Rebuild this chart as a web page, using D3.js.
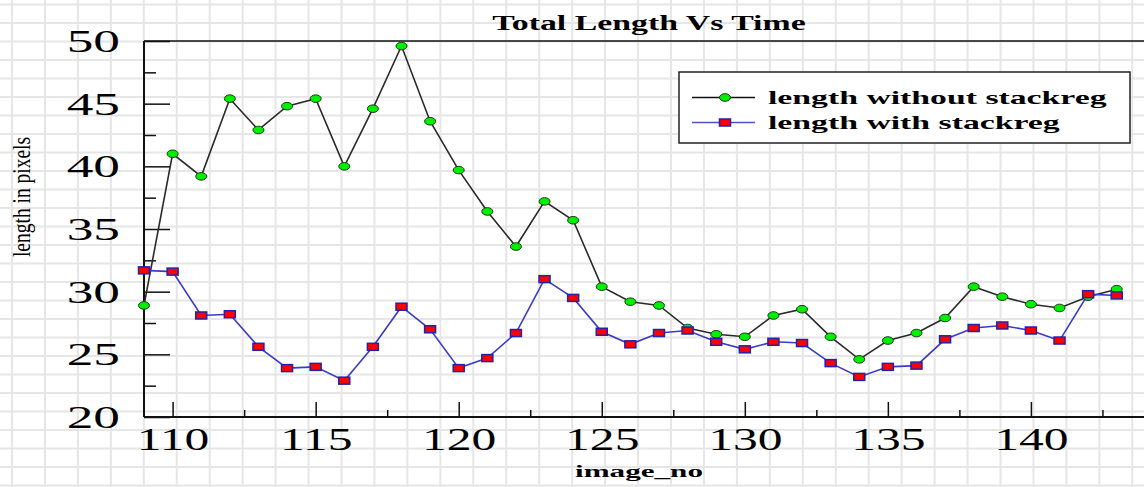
<!DOCTYPE html>
<html>
<head>
<meta charset="utf-8">
<script src="https://cdn.jsdelivr.net/npm/d3@7"></script>
<style>
  html, body { margin: 0; padding: 0; background: #fff; }
  svg { display: block; font-family: "Liberation Serif", "Times New Roman", serif; }
</style>
</head>
<body>
<svg id="chart" width="1144" height="487"></svg>
<script>
// Image numbers along the x axis
const imageNo = [109, 110, 111, 112, 113, 114, 115, 116, 117, 118, 119, 120, 121, 122, 123, 124, 125,
  126, 127, 128, 129, 130, 131, 132, 133, 134, 135, 136, 137, 138, 139, 140, 141, 142, 143];

// Total length (pixels) per image
const lengthWithoutStackreg = [28.9, 41.0, 39.2, 45.4, 42.9, 44.8, 45.4, 40.0, 44.6, 49.6, 43.6, 39.7,
  36.4, 33.6, 37.2, 35.7, 30.4, 29.2, 28.9, 27.1, 26.6, 26.4, 28.1, 28.6, 26.4, 24.6, 26.1, 26.7, 27.9,
  30.4, 29.6, 29.0, 28.7, 29.6, 30.2];
const lengthWithStackreg = [31.7, 31.6, 28.1, 28.2, 25.6, 23.9, 24.0, 22.9, 25.6, 28.8, 27.0, 23.9,
  24.7, 26.7, 31.0, 29.5, 26.8, 25.8, 26.7, 26.9, 26.0, 25.4, 26.0, 25.9, 24.3, 23.2, 24.0, 24.1, 26.2,
  27.1, 27.3, 26.9, 26.1, 29.8, 29.7];

const seriesNames = ["length without stackreg", "length with stackreg"];

// Axis ticks
const xMajorTicks = [110, 115, 120, 125, 130, 135, 140];
const xMinorTicks = [112.5, 117.5, 122.5, 127.5, 132.5, 137.5, 142.5];
const yMajorTicks = [20, 25, 30, 35, 40, 45, 50];
const yMinorTicks = [22.5, 27.5, 32.5, 37.5, 42.5, 47.5];

const W = 1144, H = 487;
const svg = d3.select("#chart");

// Graph-paper background
const bg = svg.append("g").attr("stroke", "#e6e6e6").attr("stroke-width", 2);
for (let gx = 12; gx < W; gx += 32.95) {
  bg.append("line").attr("x1", gx).attr("x2", gx).attr("y1", 0).attr("y2", H);
}
for (let gy = 4.5; gy < H; gy += 18.5) {
  bg.append("line").attr("x1", 0).attr("x2", W).attr("y1", gy).attr("y2", gy);
}

const plotLeft = 144, plotTop = 41, plotBottom = 417;
const x = d3.scaleLinear().domain([109, 145]).range([plotLeft, plotLeft + 36 * 28.61]);
const y = d3.scaleLinear().domain([20, 50]).range([plotBottom, plotTop]);

// Horizontal stretch of the serif lettering
const STRETCH = 1.72;

// Y axis: major ticks with labels, minor ticks without
const yMajor = svg.append("g").attr("transform", `translate(${plotLeft},0)`)
  .call(d3.axisLeft(y).tickValues(yMajorTicks).tickSize(-26).tickFormat(d3.format("d")));
const yMinor = svg.append("g").attr("transform", `translate(${plotLeft},0)`)
  .call(d3.axisLeft(y).tickValues(yMinorTicks).tickSize(-12).tickFormat(""));
[yMajor, yMinor].forEach(g => {
  g.select(".domain").remove();
  g.selectAll(".tick line").attr("stroke", "#111").attr("stroke-width", 1.5);
});
yMajor.selectAll(".tick text")
  .attr("x", 0).attr("dy", "0.34em")
  .attr("transform", `translate(-24,0) scale(${STRETCH},1)`)
  .attr("font-size", 31).attr("fill", "#000")
  .attr("font-family", "Liberation Serif");

// X axis: major ticks with labels, minor ticks without
const xMajor = svg.append("g").attr("transform", `translate(0,${plotBottom})`)
  .call(d3.axisBottom(x).tickValues(xMajorTicks).tickSize(-15).tickFormat(d3.format("d")));
const xMinor = svg.append("g").attr("transform", `translate(0,${plotBottom})`)
  .call(d3.axisBottom(x).tickValues(xMinorTicks).tickSize(-7).tickFormat(""));
[xMajor, xMinor].forEach(g => {
  g.select(".domain").remove();
  g.selectAll(".tick line").attr("stroke", "#111").attr("stroke-width", 1.5);
});
xMajor.selectAll(".tick text")
  .attr("y", 0).attr("dy", 0)
  .attr("transform", `translate(0,33) scale(1.6,1)`)
  .attr("font-size", 31).attr("fill", "#000")
  .attr("font-family", "Liberation Serif");

// Frame: left axis, top border and bottom axis
svg.append("line").attr("x1", plotLeft).attr("x2", plotLeft).attr("y1", plotTop).attr("y2", plotBottom)
  .attr("stroke", "#111").attr("stroke-width", 2);
svg.append("line").attr("x1", plotLeft).attr("x2", W).attr("y1", plotTop).attr("y2", plotTop)
  .attr("stroke", "#111").attr("stroke-width", 1.5);
svg.append("line").attr("x1", plotLeft).attr("x2", W).attr("y1", plotBottom).attr("y2", plotBottom)
  .attr("stroke", "#111").attr("stroke-width", 2);

// Series
const ptsA = imageNo.map((n, i) => [n, lengthWithoutStackreg[i]]);
const ptsB = imageNo.map((n, i) => [n, lengthWithStackreg[i]]);
const line = d3.line().x(d => x(d[0])).y(d => y(d[1]));

svg.append("path").attr("d", line(ptsA)).attr("fill", "none")
  .attr("stroke", "#2a2a2a").attr("stroke-width", 1.6);
svg.append("path").attr("d", line(ptsB)).attr("fill", "none")
  .attr("stroke", "#3a3ac8").attr("stroke-width", 1.6);

svg.append("g").selectAll("ellipse").data(ptsA).join("ellipse")
  .attr("cx", d => x(d[0])).attr("cy", d => y(d[1]))
  .attr("rx", 5.5).attr("ry", 3.8)
  .attr("fill", "#00ee00").attr("stroke", "#1a3a1a").attr("stroke-width", 1);

svg.append("g").selectAll("rect").data(ptsB).join("rect")
  .attr("x", d => x(d[0]) - 5.5).attr("y", d => y(d[1]) - 3.5)
  .attr("width", 11).attr("height", 7)
  .attr("fill", "#ff0000").attr("stroke", "#2222aa").attr("stroke-width", 1.5);

// Title and axis titles
svg.append("text").text("Total Length Vs Time")
  .attr("transform", `translate(649,30) scale(1.69,1)`)
  .attr("text-anchor", "middle").attr("font-size", 20).attr("font-weight", "bold");

svg.append("text").text("image_no")
  .attr("transform", `translate(639,477) scale(1.78,1)`)
  .attr("text-anchor", "middle").attr("font-size", 17.5).attr("font-weight", "bold");

svg.append("text").text("length in pixels")
  .attr("transform", `translate(30,197) scale(1.25,1) rotate(-90)`)
  .attr("text-anchor", "middle").attr("font-size", 19.5);

// Legend
const legend = svg.append("g");
legend.append("rect").attr("x", 679).attr("y", 72).attr("width", 451).attr("height", 71)
  .attr("fill", "#fff").attr("stroke", "#222").attr("stroke-width", 1.5);

const legendRows = [
  { name: seriesNames[0], y: 97.5, stroke: "#111" },
  { name: seriesNames[1], y: 122.5, stroke: "#5050d0" }
];
legendRows.forEach((r, i) => {
  legend.append("line").attr("x1", 692).attr("x2", 755).attr("y1", r.y).attr("y2", r.y)
    .attr("stroke", r.stroke).attr("stroke-width", 1.5);
  if (i === 0) {
    legend.append("ellipse").attr("cx", 725).attr("cy", r.y).attr("rx", 5.5).attr("ry", 3.8)
      .attr("fill", "#00ee00").attr("stroke", "#1a3a1a").attr("stroke-width", 1);
  } else {
    legend.append("rect").attr("x", 719.5).attr("y", r.y - 3.5).attr("width", 11).attr("height", 7)
      .attr("fill", "#ff0000").attr("stroke", "#2222aa").attr("stroke-width", 1.5);
  }
  legend.append("text").text(r.name)
    .attr("transform", `translate(768,${r.y + 6}) scale(1.73,1)`)
    .attr("font-size", 19.5).attr("font-weight", "bold");
});
</script>
</body>
</html>
